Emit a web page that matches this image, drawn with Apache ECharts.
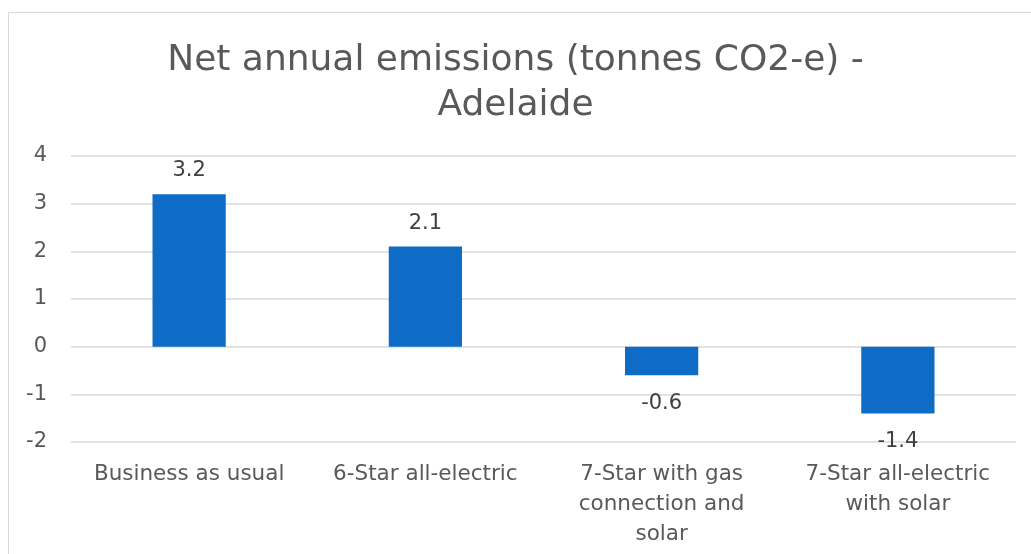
<!DOCTYPE html>
<html><head><meta charset="utf-8">
<script src="https://cdn.jsdelivr.net/npm/echarts@6/dist/echarts.min.js"></script>
<style>
html,body{margin:0;padding:0;background:#fff;}
#frame{position:absolute;left:8px;top:12px;width:1040px;height:560px;border:1px solid #d9d9d9;box-sizing:border-box;}
#chart{position:absolute;left:0;top:0;width:1031px;height:554px;}
</style></head>
<body>
<div id="frame"></div>
<div id="chart"></div>
<script>
const titleText = 'Net annual emissions (tonnes CO2-e) -\nAdelaide';
const categories = ['Business as usual', '6-Star all-electric', '7-Star with gas\nconnection and\nsolar', '7-Star all-electric\nwith solar'];
const values = [3.2, 2.1, -0.6, -1.4];
const yMin = -2, yMax = 4, yStep = 1;

const FONT = 'DejaVu Sans';
const chart = echarts.init(document.getElementById('chart'), null, {renderer:'canvas'});
chart.setOption({
  animation:false,
  title:{text:titleText,left:'center',top:33,textStyle:{fontFamily:FONT,fontSize:36,fontWeight:'normal',color:'#595959',lineHeight:45}},
  grid:{left:71,right:15,top:156,bottom:112,containLabel:false},
  xAxis:{type:'category',data:categories,
    axisLine:{show:false},axisTick:{show:false},
    axisLabel:{fontFamily:FONT,fontSize:21.5,color:'#595959',lineHeight:30,margin:17,interval:0}},
  yAxis:{type:'value',min:yMin,max:yMax,interval:yStep,
    axisLine:{show:false},axisTick:{show:false},
    axisLabel:{fontFamily:FONT,fontSize:21,color:'#595959',margin:24},
    splitLine:{lineStyle:{color:'#d9d9d9',width:1.5}}},
  series:[{type:'bar',barWidth:'31%',itemStyle:{color:'#0f6cc6'},
    data:values.map(v=>({value:v,label:{position:v>=0?'top':'bottom',distance:v>=0?13:18}})),
    label:{show:true,fontFamily:FONT,fontSize:21,color:'#404040',
      formatter:p=>p.value.toFixed(1)}}]
});
</script>
</body></html>
